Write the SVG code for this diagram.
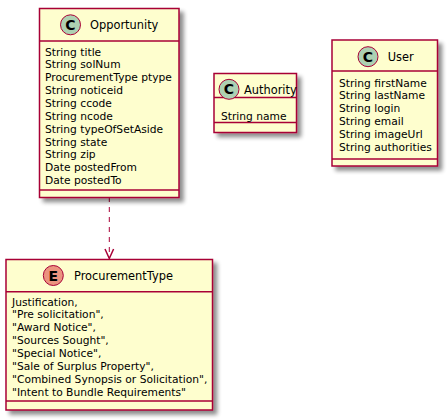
<svg xmlns="http://www.w3.org/2000/svg" width="447" height="420" viewBox="0 0 447 420">
<defs>
<filter id="sh" x="-10%" y="-10%" width="130%" height="130%">
<feGaussianBlur in="SourceAlpha" stdDeviation="2"/>
<feOffset dx="4" dy="4" result="b"/>
<feComponentTransfer><feFuncA type="linear" slope="0.45"/></feComponentTransfer>
<feMerge><feMergeNode/><feMergeNode in="SourceGraphic"/></feMerge>
</filter>
</defs>
<style>
.box{fill:#FEFECE;stroke:#A80036;stroke-width:1.5;filter:url(#sh)}
.sep{stroke:#A80036;stroke-width:1.5}
.ci{stroke:#A80036;stroke-width:1}
.t{font-family:"DejaVu Sans",sans-serif;font-size:11.4px;fill:#000}
.a{font-family:"DejaVu Sans",sans-serif;font-size:10.7px;fill:#000}
.g{font-family:"DejaVu Sans",sans-serif;font-size:14px;font-weight:bold;fill:#000;text-anchor:middle}
.e{stroke:#A80036;stroke-width:1;fill:none;stroke-dasharray:5,5}
.h{stroke:#A80036;stroke-width:1.5;fill:none}
</style>
<g id="connectors">
<path class="e" d="M109.3,197 L109.3,257"/>
<path class="h" d="M105,249 L109.3,258.5 L113.6,249"/>
</g>
<g id="Opportunity">
<rect class="box" x="39.5" y="8.5" width="139.5" height="189"/>
<line class="sep" x1="39.5" y1="41" x2="179" y2="41"/>
<line class="sep" x1="39.5" y1="190" x2="179" y2="190"/>
<circle class="ci" cx="70.5" cy="24.8" r="10" fill="#ADD1B2"/>
<text class="g" x="70.5" y="29.8">C</text>
<text class="t" x="90" y="29.3">Opportunity</text>
<text class="a" x="45" y="55.5">String title</text>
<text class="a" x="45" y="68.4">String solNum</text>
<text class="a" x="45" y="81.2">ProcurementType ptype</text>
<text class="a" x="45" y="94.1">String noticeid</text>
<text class="a" x="45" y="106.9">String ccode</text>
<text class="a" x="45" y="119.8">String ncode</text>
<text class="a" x="45" y="132.6">String typeOfSetAside</text>
<text class="a" x="45" y="145.5">String state</text>
<text class="a" x="45" y="158.3">String zip</text>
<text class="a" x="45" y="171.2">Date postedFrom</text>
<text class="a" x="45" y="184">Date postedTo</text>
</g>
<g id="Authority">
<rect class="box" x="214" y="73.5" width="82.5" height="59"/>
<line class="sep" x1="214" y1="97.5" x2="296.5" y2="97.5"/>
<line class="sep" x1="214" y1="122.5" x2="296.5" y2="122.5"/>
<circle class="ci" cx="229" cy="89.3" r="10" fill="#ADD1B2"/>
<text class="g" x="229" y="94.3">C</text>
<text class="t" x="244" y="93.6">Authority</text>
<text class="a" x="221" y="120.3">String name</text>
</g>
<g id="User">
<rect class="box" x="332" y="40" width="105.5" height="126"/>
<line class="sep" x1="332" y1="71" x2="437.5" y2="71"/>
<line class="sep" x1="332" y1="159" x2="437.5" y2="159"/>
<circle class="ci" cx="368" cy="56.7" r="10" fill="#ADD1B2"/>
<text class="g" x="368" y="61.7">C</text>
<text class="t" x="387.7" y="61">User</text>
<text class="a" x="339" y="86.5">String firstName</text>
<text class="a" x="339" y="99.3">String lastName</text>
<text class="a" x="339" y="112.1">String login</text>
<text class="a" x="339" y="125">String email</text>
<text class="a" x="339" y="137.8">String imageUrl</text>
<text class="a" x="339" y="150.6">String authorities</text>
</g>
<g id="ProcurementType">
<rect class="box" x="6" y="259.5" width="206.5" height="150.5"/>
<line class="sep" x1="6" y1="291.7" x2="212.5" y2="291.7"/>
<line class="sep" x1="6" y1="401" x2="212.5" y2="401"/>
<circle class="ci" cx="53.3" cy="275.5" r="10" fill="#EB937F"/>
<text class="g" x="53.3" y="280.5">E</text>
<text class="t" x="74" y="280.3">ProcurementType</text>
<text class="a" x="12" y="305.5">Justification,</text>
<text class="a" x="12" y="318.4">"Pre solicitation",</text>
<text class="a" x="12" y="331.2">"Award Notice",</text>
<text class="a" x="12" y="344.1">"Sources Sought",</text>
<text class="a" x="12" y="356.9">"Special Notice",</text>
<text class="a" x="12" y="369.8">"Sale of Surplus Property",</text>
<text class="a" x="12" y="382.6">"Combined Synopsis or Solicitation",</text>
<text class="a" x="12" y="395.5">"Intent to Bundle Requirements"</text>
</g>
</svg>
